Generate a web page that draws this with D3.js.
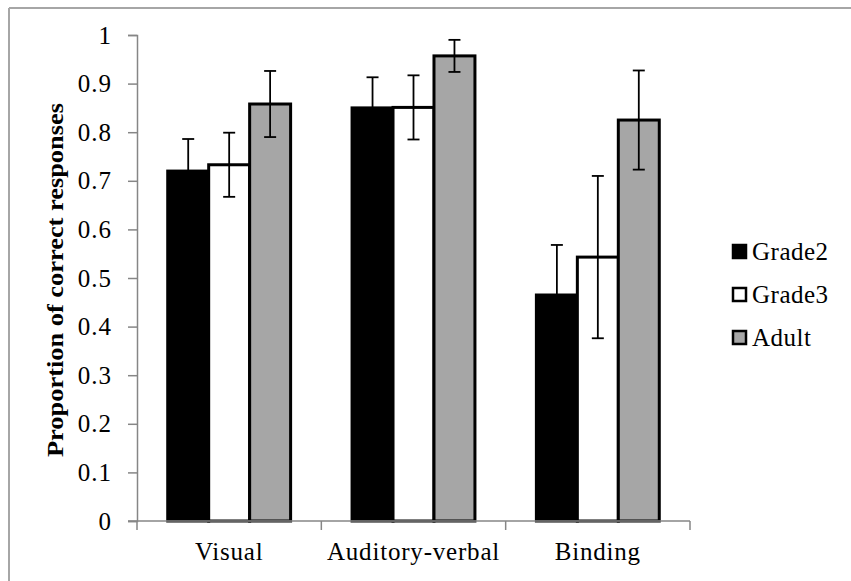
<!DOCTYPE html>
<html lang="en">
<head>
    <meta charset="UTF-8">
    <script src="https://cdnjs.cloudflare.com/ajax/libs/d3/7.8.5/d3.min.js"></script>
    <title>Proportion of correct responses</title>
    <style>
        body { margin: 0; background: #fff; }
    </style>
</head>
<body>
<script>

    // data
    let categories = ["Visual", "Auditory-verbal", "Binding"];
    let seriesNames = ["Grade2", "Grade3", "Adult"];
    let grade2 = [0.72, 0.85, 0.465];
    let grade3 = [0.733, 0.851, 0.543];
    let adult = [0.858, 0.957, 0.825];
    let grade2Err = [0.066, 0.063, 0.103];
    let grade3Err = [0.066, 0.066, 0.167];
    let adultErr = [0.068, 0.033, 0.102];
    let yTicks = [0, 0.1, 0.2, 0.3, 0.4, 0.5, 0.6, 0.7, 0.8, 0.9, 1];

    let fills = {Grade2: "#000000", Grade3: "#ffffff", Adult: "#a6a6a6"};
    let serif = "Liberation Serif";

    let W = 851, H = 581;
    let plotLeft = 137, plotRight = 690, plotTop = 35, plotBottom = 521;

    let svg = d3.select("body").append("svg")
        .attr("width", W)
        .attr("height", H)
        .attr("font-family", serif);

    // outer frame (only top and left visible)
    svg.append("line").attr("x1", 9).attr("x2", W).attr("y1", 8).attr("y2", 8)
        .attr("stroke", "#a6a6a6").attr("stroke-width", 2);
    svg.append("line").attr("x1", 9).attr("x2", 9).attr("y1", 8).attr("y2", H)
        .attr("stroke", "#a6a6a6").attr("stroke-width", 2);

    let x = d3.scaleBand().domain(categories).range([plotLeft, plotRight]).padding(0);
    // excel-like gap width of 150%
    let xs = d3.scaleBand().domain(seriesNames).range([0, x.bandwidth()])
        .paddingInner(0).paddingOuter(0.75);
    let y = d3.scaleLinear().domain([0, 1]).range([plotBottom, plotTop]);

    let data = [];
    categories.forEach(function(c, i) {
        data.push({cat: c, s: "Grade2", v: grade2[i], e: grade2Err[i]});
        data.push({cat: c, s: "Grade3", v: grade3[i], e: grade3Err[i]});
        data.push({cat: c, s: "Adult", v: adult[i], e: adultErr[i]});
    });

    // Y axis
    let yAxis = svg.append("g")
        .attr("transform", "translate(" + plotLeft + ",0)")
        .call(d3.axisLeft(y).tickValues(yTicks).tickSize(9).tickPadding(16)
            .tickFormat(d3.format("~g")));
    yAxis.attr("font-family", serif).attr("font-size", 25);
    yAxis.selectAll("text").attr("fill", "#000").attr("letter-spacing", 1);
    yAxis.selectAll("line, path").attr("stroke", "#868686").attr("stroke-width", 1.5);

    // bars
    svg.selectAll("rect.bar")
        .data(data)
        .enter().append("rect")
        .attr("class", "bar")
        .attr("x", function(d) { return x(d.cat) + xs(d.s); })
        .attr("width", xs.bandwidth())
        .attr("y", function(d) { return y(d.v); })
        .attr("height", function(d) { return y(0) - y(d.v); })
        .attr("fill", function(d) { return fills[d.s]; })
        .attr("stroke", "#000")
        .attr("stroke-width", 3);

    // X axis line and category boundary ticks
    svg.append("line")
        .attr("x1", plotLeft - 9).attr("x2", plotRight)
        .attr("y1", y(0)).attr("y2", y(0))
        .attr("stroke", "#868686").attr("stroke-width", 1.5);
    let edges = categories.map(function(c) { return x(c); }).concat([x.range()[1]]);
    svg.selectAll("line.xtick")
        .data(edges)
        .enter().append("line")
        .attr("class", "xtick")
        .attr("x1", function(d) { return d; }).attr("x2", function(d) { return d; })
        .attr("y1", y(0)).attr("y2", y(0) + 9)
        .attr("stroke", "#868686").attr("stroke-width", 1.5);
    svg.selectAll("text.cat")
        .data(categories)
        .enter().append("text")
        .attr("class", "cat")
        .attr("x", function(d) { return x(d) + x.bandwidth() / 2; })
        .attr("y", 560)
        .attr("text-anchor", "middle")
        .attr("font-size", 25)
        .attr("letter-spacing", 0.8)
        .text(function(d) { return d; });

    // error bars
    let cap = 6;
    let eb = svg.selectAll("g.err")
        .data(data)
        .enter().append("g")
        .attr("class", "err")
        .attr("stroke", "#000")
        .attr("stroke-width", 1.8);
    eb.append("line")
        .attr("x1", function(d) { return x(d.cat) + xs(d.s) + xs.bandwidth() / 2; })
        .attr("x2", function(d) { return x(d.cat) + xs(d.s) + xs.bandwidth() / 2; })
        .attr("y1", function(d) { return y(d.v + d.e); })
        .attr("y2", function(d) { return y(d.v - d.e); });
    eb.append("line")
        .attr("x1", function(d) { return x(d.cat) + xs(d.s) + xs.bandwidth() / 2 - cap; })
        .attr("x2", function(d) { return x(d.cat) + xs(d.s) + xs.bandwidth() / 2 + cap; })
        .attr("y1", function(d) { return y(d.v + d.e); })
        .attr("y2", function(d) { return y(d.v + d.e); });
    eb.append("line")
        .attr("x1", function(d) { return x(d.cat) + xs(d.s) + xs.bandwidth() / 2 - cap; })
        .attr("x2", function(d) { return x(d.cat) + xs(d.s) + xs.bandwidth() / 2 + cap; })
        .attr("y1", function(d) { return y(d.v - d.e); })
        .attr("y2", function(d) { return y(d.v - d.e); });

    // y title
    svg.append("text")
        .attr("transform", "translate(63,280) rotate(-90)")
        .attr("text-anchor", "middle")
        .attr("textLength", 354)
        .attr("lengthAdjust", "spacingAndGlyphs")
        .attr("font-size", 24)
        .attr("font-weight", "bold")
        .text("Proportion of correct responses");

    // legend
    let legend = svg.selectAll("g.legend")
        .data(seriesNames)
        .enter().append("g")
        .attr("class", "legend")
        .attr("transform", function(d, i) { return "translate(733," + (245 + i * 43) + ")"; });
    legend.append("rect")
        .attr("width", 13).attr("height", 13)
        .attr("fill", function(d) { return fills[d]; })
        .attr("stroke", "#000")
        .attr("stroke-width", 2.5);
    legend.append("text")
        .attr("x", 19)
        .attr("y", 15)
        .attr("font-size", 25)
        .attr("letter-spacing", 0.5)
        .text(function(d) { return d; });

</script>
</body>
</html>
